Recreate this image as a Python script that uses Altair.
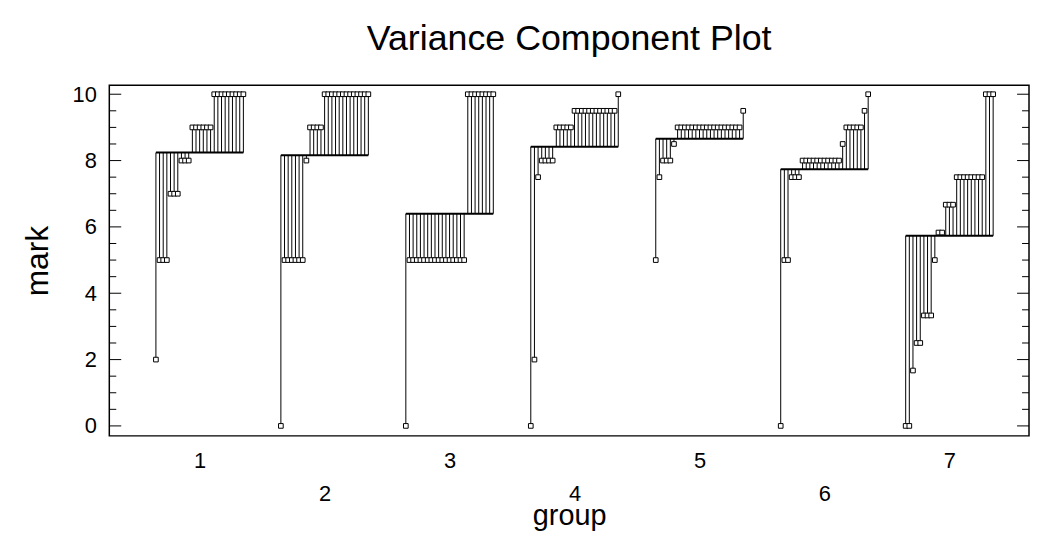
import altair as alt
import pandas as pd

# ---- data ----
groups = [1, 2, 3, 4, 5, 6, 7]
g1 = [2, 5, 5, 5, 7, 7, 7, 8, 8, 8, 9, 9, 9, 9, 9, 9, 10, 10, 10, 10, 10, 10, 10, 10, 10]
g2 = [0, 5, 5, 5, 5, 5, 5, 8, 9, 9, 9, 9, 10, 10, 10, 10, 10, 10, 10, 10, 10, 10, 10, 10, 10]
g3 = [0, 5, 5, 5, 5, 5, 5, 5, 5, 5, 5, 5, 5, 5, 5, 5, 5, 10, 10, 10, 10, 10, 10, 10, 10]
g4 = [0, 2, 7.5, 8, 8, 8, 8, 9, 9, 9, 9, 9, 9.5, 9.5, 9.5, 9.5, 9.5, 9.5, 9.5, 9.5, 9.5, 9.5, 9.5, 9.5, 10]
g5 = [5, 7.5, 8, 8, 8, 8.5, 9, 9, 9, 9, 9, 9, 9, 9, 9, 9, 9, 9, 9, 9, 9, 9, 9, 9, 9.5]
g6 = [0, 5, 5, 7.5, 7.5, 7.5, 8, 8, 8, 8, 8, 8, 8, 8, 8, 8, 8, 8.5, 9, 9, 9, 9, 9, 9.5, 10]
g7 = [0, 0, 1.67, 2.5, 2.5, 3.33, 3.33, 3.33, 5, 5.83, 5.83, 6.67, 6.67, 6.67,
      7.5, 7.5, 7.5, 7.5, 7.5, 7.5, 7.5, 7.5, 10, 10, 10]
marks = [g1, g2, g3, g4, g5, g6, g7]

y_major = [0, 2, 4, 6, 8, 10]
y_minor = [0.5, 1, 1.5, 2.5, 3, 3.5, 4.5, 5, 5.5, 6.5, 7, 7.5, 8.5, 9, 9.5]

FONT = "Liberation Sans, Arial, sans-serif"
HALF = 0.35  # half width of a group's strip, in group units

rows = []
means = []
for g, vals in zip(groups, marks):
    n = len(vals)
    m = sum(vals) / n
    means.append({"group": g, "mean": m, "x0": g - HALF, "x1": g + HALF})
    for i, v in enumerate(sorted(vals)):
        rows.append({"group": g, "pos": g - HALF + i * 2 * HALF / (n - 1),
                     "mark": v, "mean": m})
df = pd.DataFrame(rows)
dm = pd.DataFrame(means)
tick_major = pd.DataFrame({"t": y_major})
tick_minor = pd.DataFrame({"t": y_minor})

xs = alt.Scale(domain=[0.277, 7.637], nice=False, zero=False)
ys = alt.Scale(domain=[-0.3, 10.27], nice=False, zero=False)

x_axis = alt.Axis(
    values=groups, format="d", ticks=False, domain=False, grid=False,
    labelFontSize=22, labelFont=FONT, labelColor="black",
    labelPadding={"condition": {"test": "datum.value % 2 == 0", "value": 48}, "value": 15},
    title="group", titleFontSize=29, titleFont=FONT, titleFontWeight="normal",
    titleColor="black", titlePadding=-3,
)
y_axis = alt.Axis(
    values=y_major, format="d", ticks=False, domain=False, grid=False,
    labelFontSize=22, labelFont=FONT, labelColor="black", labelPadding=13,
    title="mark", titleFontSize=32, titleFont=FONT, titleFontWeight="normal",
    titleColor="black", titlePadding=18,
)

base = alt.Chart(df)

stems = base.mark_rule(color="black", strokeWidth=1).encode(
    x=alt.X("pos:Q", scale=xs, axis=x_axis),
    y=alt.Y("mark:Q", scale=ys, axis=y_axis),
    y2="mean:Q",
)

mean_line = alt.Chart(dm).mark_rule(color="black", strokeWidth=2).encode(
    x=alt.X("x0:Q", scale=xs),
    x2="x1:Q",
    y=alt.Y("mean:Q", scale=ys),
)

pts = base.mark_point(shape="square", size=22, filled=True, fill="white",
                      stroke="black", strokeWidth=1, opacity=1).encode(
    x=alt.X("pos:Q", scale=xs),
    y=alt.Y("mark:Q", scale=ys),
)

def ticks(data, length, right=False):
    if right:
        xa, xb = alt.value(926), alt.value(926 - length)
    else:
        xa, xb = alt.value(0), alt.value(length)
    return alt.Chart(data).mark_rule(color="black", strokeWidth=1).encode(
        x=xa, x2=xb, y=alt.Y("t:Q", scale=ys))

chart = alt.layer(
    stems, mean_line, pts,
    ticks(tick_major, 12), ticks(tick_minor, 7),
    ticks(tick_major, 12, True), ticks(tick_minor, 7, True),
).properties(
    width=926, height=353,
    title=alt.TitleParams("Variance Component Plot", fontSize=36, font=FONT,
                          fontWeight="normal", color="black", anchor="middle",
                          offset=26),
    autosize=alt.AutoSizeParams(type="none"),
    padding={"left": 102, "top": 76, "right": 1, "bottom": 97},
).configure(
    background="white",
    view=alt.ViewConfig(stroke="black", strokeWidth=1.5, strokeOpacity=1),
)

chart.save("out.html", embed_options={"renderer": "svg", "actions": False})
